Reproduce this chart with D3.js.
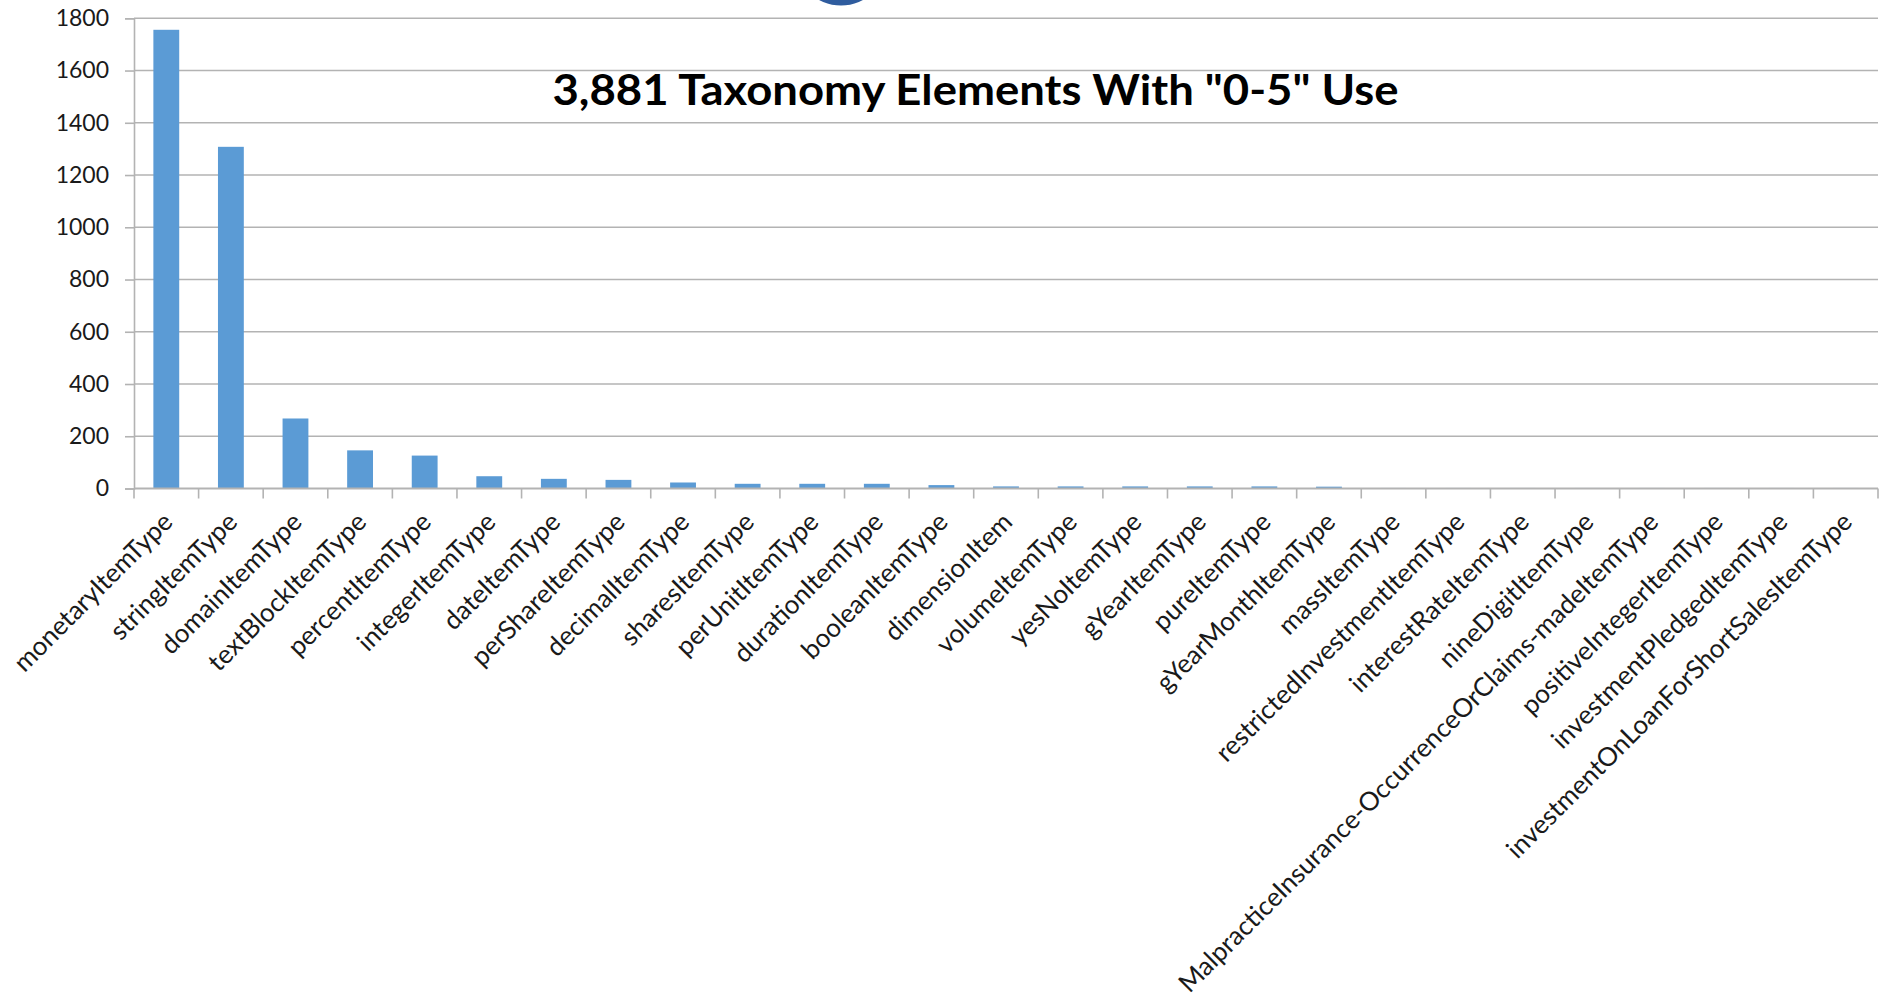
<!DOCTYPE html>
<html>
<head>
<meta charset="utf-8">
<script src="https://cdn.jsdelivr.net/npm/d3@7"></script>
<style>
  html, body { margin: 0; padding: 0; background: #ffffff; }
  svg { display: block; }
</style>
</head>
<body>
<svg id="chart" width="1904" height="1001"></svg>
<script>
// Element counts per XBRL item type
const categories = [
  "monetaryItemType", "stringItemType", "domainItemType", "textBlockItemType",
  "percentItemType", "integerItemType", "dateItemType", "perShareItemType",
  "decimalItemType", "sharesItemType", "perUnitItemType", "durationItemType",
  "booleanItemType", "dimensionItem", "volumeItemType", "yesNoItemType",
  "gYearItemType", "pureItemType", "gYearMonthItemType", "massItemType",
  "restrictedInvestmentItemType", "interestRateItemType", "nineDigitItemType",
  "MalpracticeInsurance-OccurrenceOrClaims-madeItemType", "positiveIntegerItemType",
  "investmentPledgedItemType", "investmentOnLoanForShortSalesItemType"
];
const counts = [
  1756, 1308, 268, 146,
  126, 47, 37, 33,
  23, 18, 18, 18,
  13, 8, 8, 8,
  8, 8, 7, 2,
  2, 2, 2,
  2, 2,
  2, 2
];
const yTicks = [0, 200, 400, 600, 800, 1000, 1200, 1400, 1600, 1800];
const titleText = '3,881 Taxonomy Elements With "0-5" Use';

const svg = d3.select("#chart");
const plotLeft = 134, plotRight = 1878, plotTop = 18.3, plotBottom = 488.5;

const x = d3.scaleBand().domain(categories).range([plotLeft, plotRight])
  .paddingInner(0.6).paddingOuter(0.3);
const xEdges = d3.scaleBand().domain(categories).range([plotLeft, plotRight]).padding(0);
const y = d3.scaleLinear().domain([0, 1800]).range([plotBottom, plotTop]);

const gridColor = "#b3b3b3";

// decorative badge peeking in at the top edge
svg.append("circle").attr("cx", 841).attr("cy", -41).attr("r", 46.5)
  .attr("fill", "#2f5c9e");

// horizontal gridlines
svg.append("g").selectAll("line").data(yTicks.filter(d => d > 0)).join("line")
  .attr("x1", plotLeft).attr("x2", plotRight)
  .attr("y1", d => y(d)).attr("y2", d => y(d))
  .attr("stroke", gridColor).attr("stroke-width", 1.6);

// title
svg.append("text")
  .attr("x", 975.5).attr("y", 105)
  .attr("text-anchor", "middle")
  .attr("font-family", "Lato, 'Open Sans', sans-serif")
  .attr("font-weight", "bold")
  .attr("font-size", 42)
  .attr("textLength", 846)
  .attr("lengthAdjust", "spacingAndGlyphs")
  .attr("fill", "#000")
  .text(titleText);

// bars
svg.append("g").selectAll("rect").data(categories).join("rect")
  .attr("x", d => x(d))
  .attr("width", x.bandwidth())
  .attr("y", (d, i) => y(counts[i]))
  .attr("height", (d, i) => plotBottom - y(counts[i]))
  .attr("fill", "#5b9bd5");

// y axis
const yAxis = svg.append("g").attr("transform", `translate(${plotLeft},0)`)
  .call(d3.axisLeft(y).tickValues(yTicks).tickSize(9).tickPadding(16).tickFormat(d3.format("d")));
yAxis.select(".domain").attr("stroke", gridColor).attr("stroke-width", 1.6);
yAxis.selectAll(".tick line").attr("stroke", gridColor).attr("stroke-width", 1.6);
yAxis.selectAll(".tick text")
  .attr("font-family", "Lato, sans-serif").attr("font-size", 23).attr("fill", "#1a1a1a");

// x axis: baseline plus ticks at category boundaries
const xg = svg.append("g");
xg.append("line").attr("x1", plotLeft).attr("x2", plotRight)
  .attr("y1", plotBottom).attr("y2", plotBottom)
  .attr("stroke", gridColor).attr("stroke-width", 1.8);
const edges = categories.map(d => xEdges(d)).concat([plotRight]);
xg.selectAll("line.tk").data(edges).join("line").attr("class", "tk")
  .attr("x1", d => d).attr("x2", d => d)
  .attr("y1", plotBottom).attr("y2", plotBottom + 10)
  .attr("stroke", gridColor).attr("stroke-width", 1.6);

// rotated category labels
xg.selectAll("text").data(categories).join("text")
  .attr("transform", d => `translate(${x(d) + x.bandwidth() / 2 + 8},${plotBottom + 35}) rotate(-45)`)
  .attr("text-anchor", "end")
  .attr("font-family", "Lato, sans-serif")
  .attr("font-size", 26)
  .attr("fill", "#1a1a1a")
  .text(d => d);
</script>
</body>
</html>
